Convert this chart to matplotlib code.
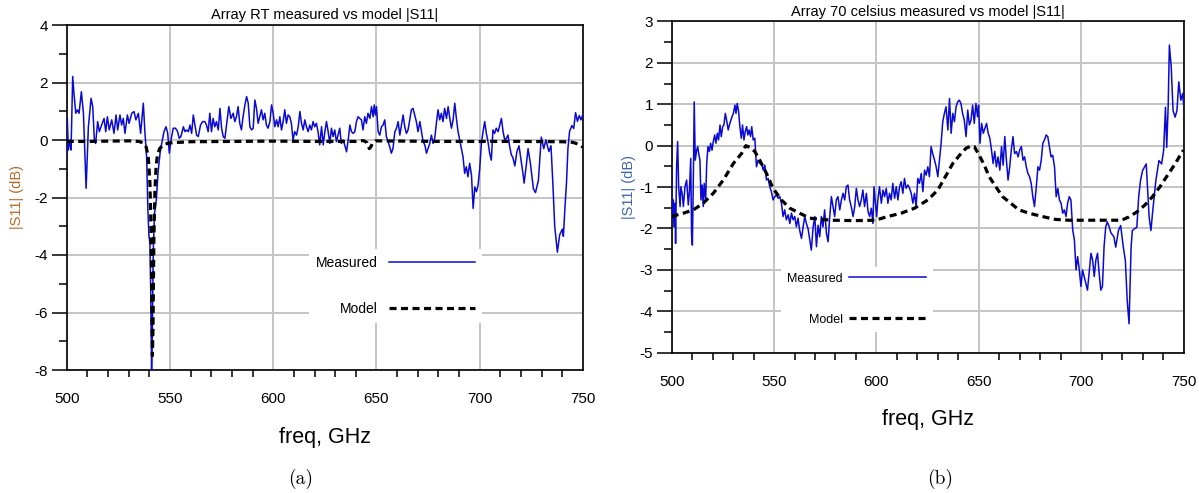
import matplotlib
matplotlib.use("Agg")
import matplotlib.pyplot as plt
from matplotlib.ticker import MultipleLocator

# |S11| (dB) vs freq (GHz)
rt_measured = [
    (500.0, -0.58), (500.3, 0.75), (500.8, -0.35), (501.6, 0.0), (502.1, -0.35), (502.9, 2.21),
    (503.5, 1.63), (504.4, 0.93), (505.2, 1.05), (506.0, 0.93), (507.1, 1.68), (508.1, 0.93),
    (509.4, -1.68), (510.5, 0.46), (511.8, 1.45), (512.6, 1.16), (513.4, 0.0), (514.0, -0.12),
    (515.0, 0.64), (515.8, 0.29), (516.9, 0.52), (518.1, 0.75), (518.9, 0.29), (519.7, 0.81),
    (520.6, 0.35), (521.8, 0.70), (522.9, 0.23), (523.9, 0.87), (524.7, 0.35), (525.8, 0.87),
    (526.6, 0.52), (527.4, 0.75), (528.2, 0.23), (529.4, 0.87), (530.2, 0.58), (531.5, 0.93),
    (532.6, 0.99), (533.5, 0.70), (534.7, 0.93), (535.8, 0.23), (537.1, 1.28), (537.9, 0.23),
    (538.7, -0.58), (539.3, -2.4), (539.8, -3.3), (540.3, -3.6), (540.7, -5.3), (541.1, -8.0),
    (541.5, -6.5), (541.9, -3.9), (542.5, -2.56), (543.4, -2.09), (544.2, -1.16), (545.2, -0.46),
    (546.0, -0.12), (547.1, 0.29), (548.1, 0.46), (548.9, 0.23), (549.7, -0.46), (550.5, 0.0),
    (551.6, 0.41), (552.7, 0.41), (553.7, 0.29), (554.5, 0.06), (555.3, 0.12), (556.5, 0.46),
    (557.3, 0.29), (558.1, 0.35), (558.9, 0.29), (559.7, 0.52), (560.5, 0.23), (561.3, 0.87),
    (562.1, 0.52), (562.9, 0.17), (563.7, 0.12), (564.8, 0.52), (565.8, 0.64), (566.9, 0.64),
    (567.7, 0.52), (568.5, 0.29), (569.3, 0.93), (570.1, 0.29), (570.9, 0.75), (571.7, 0.46),
    (572.5, 0.64), (573.4, 0.35), (574.2, 1.10), (575.0, 0.41), (575.8, 0.12), (576.6, 0.06),
    (577.4, 0.52), (578.5, 1.16), (579.5, 0.75), (580.6, 0.93), (581.4, 0.64), (582.2, 0.81),
    (583.0, 1.16), (583.8, 0.58), (584.6, 0.35), (585.4, 0.81), (586.3, 1.22), (587.1, 1.51),
    (587.9, 1.28), (588.7, 0.46), (589.5, 0.35), (590.3, 0.41), (591.1, 1.39), (591.9, 1.10),
    (592.7, 0.58), (593.5, 0.81), (594.3, 1.05), (595.1, 0.70), (595.9, 0.93), (596.7, 0.52),
    (597.5, 0.41), (598.4, 0.64), (599.2, 1.22), (600.0, 0.93), (600.8, 0.46), (601.6, 0.70),
    (602.4, 0.46), (603.2, 0.81), (604.0, 0.35), (604.8, 0.64), (605.6, 1.05), (606.4, 0.58),
    (607.2, 0.87), (608.0, 0.81), (608.8, 0.58), (609.6, 0.0), (610.4, 0.29), (611.3, 0.17),
    (612.1, 0.46), (612.9, 0.99), (613.7, 0.58), (614.5, 0.35), (615.3, 0.70), (616.1, 0.46),
    (616.9, 0.29), (617.7, 0.52), (618.5, 0.35), (619.3, 0.64), (620.1, 0.46), (620.9, 0.58),
    (621.7, 0.29), (622.5, -0.17), (623.4, 0.46), (624.2, -0.17), (625.0, 0.29), (625.8, 0.64),
    (626.6, 0.29), (627.4, -0.12), (628.2, 0.41), (629.0, 0.12), (629.8, 0.35), (630.6, -0.06),
    (631.4, 0.17), (632.2, 0.41), (633.0, -0.12), (633.8, 0.0), (634.6, -0.17), (635.5, -0.41),
    (636.3, 0.0), (637.1, 0.52), (637.9, 0.29), (638.7, 0.23), (639.5, 0.29), (640.3, 0.64),
    (641.1, 0.81), (641.9, 0.75), (642.7, 0.70), (643.5, 0.35), (644.3, 0.81), (645.1, 0.58),
    (645.9, 0.93), (646.8, 0.75), (647.6, 1.16), (648.4, 0.81), (648.9, 1.22), (649.5, 0.87),
    (650.0, 1.16), (650.8, 0.29), (651.6, 0.17), (652.4, 0.46), (653.2, 0.52), (654.0, 0.70),
    (654.8, 0.12), (655.6, -0.06), (656.4, -0.23), (657.2, -0.46), (658.0, -0.29), (658.9, 0.29),
    (659.7, 0.41), (660.5, 0.64), (661.3, 0.17), (662.1, 0.52), (662.9, 0.87), (663.7, 0.46),
    (664.5, 0.23), (665.3, 0.35), (666.1, 0.70), (666.9, 1.05), (667.7, 1.10), (668.5, 0.87),
    (669.3, 0.64), (670.1, 0.29), (671.0, 0.64), (671.8, 0.29), (672.6, -0.06), (673.4, -0.17),
    (674.2, -0.46), (675.0, -0.29), (675.8, -0.12), (676.6, 0.17), (677.4, -0.12), (678.2, 0.06),
    (679.0, 0.58), (679.8, 1.05), (680.6, 0.70), (681.4, 0.93), (682.2, 0.64), (683.0, 1.10),
    (683.9, 0.75), (684.7, 1.16), (685.5, 0.75), (686.3, 0.41), (687.1, 0.70), (687.9, 1.28),
    (688.7, 0.75), (689.5, 0.29), (690.3, 0.0), (691.1, -0.29), (691.9, -0.58), (692.7, -1.16),
    (693.5, -0.93), (694.3, -1.28), (695.1, -0.81), (696.0, -1.22), (696.8, -2.38), (697.6, -1.63),
    (698.4, -1.80), (699.2, -1.57), (700.0, -0.99), (700.8, -0.12), (701.6, 0.29), (702.4, 0.64),
    (703.2, 0.23), (704.0, -0.06), (704.8, -0.46), (705.6, -0.70), (706.4, 0.35), (707.2, 0.23),
    (708.0, 0.41), (708.9, 0.29), (709.7, 0.52), (710.5, 0.75), (711.3, 0.29), (712.1, 0.0),
    (712.9, 0.06), (713.7, 0.17), (714.5, -0.23), (715.3, -0.52), (716.0, -0.6), (717.0, -0.9),
    (718.0, -0.4), (719.0, -0.2), (720.0, -0.7), (721.0, -1.2), (721.5, -1.5), (722.5, -0.9),
    (723.4, -0.3), (724.5, -0.8), (726.0, -1.7), (727.0, -1.83), (728.4, -1.4), (729.8, 0.1),
    (731.0, -0.3), (732.0, 0.0), (733.5, -0.4), (734.5, -0.2), (735.4, -1.5), (736.3, -3.0),
    (737.6, -3.9), (738.7, -3.3), (740.0, -3.1), (740.5, -3.35), (741.3, -2.3), (742.0, -1.5),
    (742.7, -0.3), (743.5, 0.3), (744.6, 0.5), (745.5, 0.4), (746.4, 0.95), (747.3, 0.65),
    (748.2, 0.85), (749.0, 0.7), (750.0, 0.9),
]

rt_model = [
    (500, -0.05), (510, -0.05), (520, -0.04), (530, -0.03), (535, -0.05), (537, -0.1),
    (538.5, -0.25), (539.5, -0.6), (540.3, -1.5), (540.8, -3.0), (541.2, -5.5), (541.5, -7.5),
    (541.8, -6.5), (542.2, -3.5), (542.7, -1.8), (543.3, -0.9), (544, -0.5), (545, -0.3),
    (547, -0.15), (550, -0.1), (560, -0.06), (580, -0.05), (600, -0.04), (620, -0.05),
    (640, -0.05), (643.5, -0.02), (644.5, -0.05), (645.5, -0.1), (646.5, -0.3), (647.2, -0.25),
    (648.0, -0.12), (649.5, -0.03), (680, -0.05), (700, -0.05), (720, -0.05), (740, -0.06),
    (745, -0.08), (748, -0.15), (750, -0.25),
]

hot_measured = [
    (500.0, -0.67), (500.3, -1.79), (500.8, -1.31), (501.1, -1.96), (501.6, -1.39), (501.9, -2.36),
    (502.4, -0.51), (502.9, 0.10), (503.4, -0.99), (504.1, -1.47), (504.5, -0.99), (505.2, -1.19),
    (505.7, -1.47), (506.5, -0.99), (507.3, -0.83), (508.1, -1.43), (508.6, -1.15), (509.3, -0.31),
    (509.7, -2.12), (510.1, -2.40), (510.6, -0.67), (511.0, 1.06), (511.5, -0.35), (512.2, -0.11),
    (512.7, -0.02), (513.3, -0.22), (513.8, -0.35), (514.3, -1.31), (514.9, -0.95), (515.4, -1.47),
    (515.9, -0.91), (516.6, -1.31), (517.1, -0.43), (517.7, -0.02), (518.4, -0.14), (519.0, 0.06),
    (519.7, -0.11), (520.3, 0.10), (521.0, 0.26), (521.6, 0.06), (522.3, 0.30), (522.9, 0.14),
    (523.6, 0.50), (524.2, 0.22), (524.9, 0.46), (525.5, 0.50), (526.2, 0.78), (526.8, 0.62),
    (527.6, 0.38), (528.4, 0.54), (529.2, 0.66), (530.1, 0.78), (530.9, 0.98), (531.4, 0.78),
    (532.0, 1.02), (532.7, 0.82), (533.3, 0.46), (534.0, 0.18), (534.6, 0.50), (535.3, 0.14),
    (535.9, 0.34), (536.6, 0.46), (537.2, 0.26), (537.8, 0.38), (538.5, 0.22), (539.1, 0.46),
    (539.8, 0.14), (540.6, 0.18), (541.4, -0.51), (542.2, -0.35), (543.0, -0.43), (543.9, -0.43),
    (544.7, -0.59), (545.5, -0.47), (546.3, -0.83), (547.1, -0.79), (547.9, -0.99), (548.7, -1.11),
    (549.5, -1.31), (550.4, -1.23), (551.2, -1.19), (552.0, -1.27), (552.8, -1.23), (553.6, -1.39),
    (554.4, -1.71), (555.2, -1.55), (556.0, -1.79), (556.9, -1.67), (557.7, -1.88), (558.5, -1.63),
    (559.3, -1.79), (560.1, -1.71), (560.9, -1.96), (561.7, -1.75), (562.5, -2.04), (563.4, -2.24),
    (564.2, -1.96), (565.0, -1.71), (565.8, -1.88), (566.6, -2.0), (568.2, -2.52), (569.1, -1.96),
    (569.9, -1.71), (570.7, -2.44), (571.5, -1.92), (572.3, -2.20), (573.1, -1.71), (573.9, -1.96),
    (574.7, -1.55), (575.6, -2.12), (576.4, -2.32), (577.2, -1.71), (578.0, -1.23), (578.8, -1.47),
    (579.6, -1.71), (580.4, -1.31), (581.2, -1.23), (582.1, -1.55), (582.9, -1.31), (583.7, -1.15),
    (584.5, -1.31), (585.3, -0.99), (586.1, -0.95), (586.9, -1.31), (587.7, -1.47), (588.6, -1.71),
    (589.4, -1.47), (590.2, -1.03), (591.0, -1.31), (591.8, -1.47), (592.6, -1.31), (593.4, -1.07),
    (594.2, -1.47), (595.1, -1.15), (595.9, -1.59), (596.7, -1.71), (597.5, -1.51), (598.3, -1.88),
    (598.8, -0.99), (599.4, -1.31), (600.1, -1.71), (600.7, -1.31), (601.5, -0.99), (602.4, -1.39),
    (603.2, -1.07), (604.0, -1.23), (604.8, -1.03), (605.6, -1.39), (606.4, -1.15), (607.2, -1.31),
    (608.0, -0.91), (608.9, -1.27), (609.7, -0.99), (610.5, -1.31), (611.3, -0.99), (612.1, -0.87),
    (612.9, -1.15), (613.7, -0.79), (614.5, -1.03), (615.4, -0.95), (616.2, -1.03), (617.0, -1.15),
    (617.8, -1.39), (618.6, -1.15), (619.4, -1.47), (620.2, -0.79), (621.0, -0.91), (621.9, -0.67),
    (622.7, -1.11), (623.5, -0.59), (624.3, -0.71), (625.1, -0.51), (625.9, -0.75), (626.7, -0.02),
    (627.5, -0.19), (628.4, -0.35), (629.2, -0.51), (630.0, -0.75), (630.8, -0.35), (631.6, 0.06),
    (632.4, 0.58), (633.2, 0.78), (634.0, 0.94), (634.9, 0.38), (635.7, 1.14), (636.5, 0.30),
    (637.3, 0.78), (638.1, 0.58), (638.9, 0.94), (639.7, 1.06), (640.5, 1.10), (641.3, 1.02),
    (642.1, 0.78), (642.9, 0.62), (643.8, 0.22), (644.6, 0.86), (645.4, 0.50), (646.2, 0.62),
    (647.0, 0.98), (647.8, 0.54), (648.6, 1.02), (649.4, 0.70), (649.9, 0.98), (650.6, 0.06),
    (651.4, 0.54), (652.2, 0.30), (653.0, 0.42), (653.8, 0.54), (654.6, 0.30), (655.4, 0.18),
    (656.2, -0.10), (657.0, -0.43), (657.8, -0.14), (658.6, -0.51), (659.4, -0.27), (660.3, -0.59),
    (661.1, -0.02), (661.9, -0.47), (662.7, 0.22), (663.5, -0.35), (664.3, -0.83), (665.1, -0.51),
    (665.9, -0.10), (666.7, 0.22), (667.5, -0.19), (668.4, -0.14), (669.2, -0.27), (670.0, -0.10),
    (670.8, -0.02), (671.6, -0.35), (672.4, -0.27), (673.2, -0.51), (674.0, -0.67), (674.8, -0.75),
    (675.6, -0.91), (676.4, -1.23), (677.2, -1.47), (678.1, -0.99), (678.9, -0.51), (679.7, -0.59),
    (680.5, -0.35), (681.3, 0.06), (682.1, 0.14), (682.9, 0.26), (683.7, 0.22), (684.5, -0.02),
    (685.3, -0.27), (686.1, -0.23), (687.0, -0.51), (687.8, -1.23), (688.6, -1.03), (689.4, -1.31),
    (690.2, -1.39), (691.0, -1.63), (691.8, -1.55), (692.6, -1.71), (693.4, -1.39), (694.2, -1.23),
    (695.0, -1.31), (695.9, -2.04), (696.7, -2.28), (697.5, -3.0), (698.3, -2.68), (699.1, -3.0),
    (699.9, -3.40), (700.7, -3.0), (701.5, -3.16), (702.3, -3.33), (703.1, -3.49), (703.9, -3.08),
    (704.8, -2.60), (705.6, -2.76), (706.4, -3.16), (707.2, -2.76), (708.0, -2.60), (708.8, -3.08),
    (709.6, -3.49), (710.4, -3.40), (711.2, -2.44), (712.0, -1.96), (712.8, -1.84), (713.7, -1.96),
    (714.5, -2.1), (716.0, -2.2), (716.9, -2.45), (718.2, -2.05), (719.3, -1.93), (720.6, -2.45),
    (721.6, -2.77), (722.5, -3.74), (723.4, -4.3), (724.4, -2.45), (725.0, -2.05), (726.2, -2.0),
    (727.2, -1.97), (728.1, -1.24), (729.0, -0.84), (730.0, -0.6), (730.9, -0.52), (731.8, -0.44),
    (733.2, -1.72), (734.1, -2.05), (735.0, -1.56), (736.5, -0.84), (738.0, -0.36), (739.3, -0.44),
    (740.3, -0.11), (741.2, 0.93), (741.8, -0.04), (742.5, 0.93), (743.1, 2.43), (744.0, 1.9),
    (744.9, 0.85), (745.9, 0.69), (746.8, 0.85), (747.7, 1.54), (748.7, 1.1), (749.6, 1.26),
    (750.0, 1.0),
]

hot_model = [
    (500, -1.71), (505.7, -1.63), (510.6, -1.55), (515.4, -1.39), (520.3, -1.15), (525.2, -0.83),
    (530.1, -0.43), (534.1, -0.19), (536.2, 0.0), (538.2, -0.04), (540.6, -0.14), (543.0, -0.35),
    (546.3, -0.67), (549.5, -1.03), (553.6, -1.31), (557.7, -1.51), (562.5, -1.63), (567.4, -1.75),
    (578, -1.80), (589.4, -1.81), (599.4, -1.80), (605.6, -1.71), (612.1, -1.63), (618.6, -1.51),
    (625.1, -1.31), (630, -1.07), (633.2, -0.79), (637.3, -0.43), (641.3, -0.19), (643.8, -0.06),
    (646.2, -0.01), (647.8, -0.02), (650.2, -0.23), (652.7, -0.47), (655.1, -0.75), (658.3, -0.99),
    (661.6, -1.23), (665.6, -1.39), (669.6, -1.55), (674.5, -1.63), (681, -1.71), (687.4, -1.78),
    (693.9, -1.80), (700.4, -1.80), (710.1, -1.80), (719.7, -1.80), (723.4, -1.72), (727.2, -1.6),
    (731, -1.44), (734.7, -1.24), (738.4, -1.0), (742.1, -0.72), (745.9, -0.44), (747.8, -0.28),
    (750, -0.11),
]

plt.rcParams["font.family"] = ["Liberation Sans", "DejaVu Sans"]
plt.rcParams["axes.unicode_minus"] = False

BLUE = "#0a0ad2"
GRID = "#c4c4c4"


def draw_panel(ax, measured, model, title, ylim, ymajor, yminor, legend_anchor, legend_size, label_gap):
    f_m, db_m = zip(*measured)
    f_s, db_s = zip(*model)
    ax.plot(f_m, db_m, color=BLUE, lw=1.1, label="Measured", zorder=3)
    ax.plot(f_s, db_s, color="black", lw=2.3, dashes=(2.2, 1.4), label="Model", zorder=3)

    ax.set_xlim(500, 750)
    ax.set_ylim(*ylim)
    ax.xaxis.set_major_locator(MultipleLocator(50))
    ax.xaxis.set_minor_locator(MultipleLocator(10))
    ax.yaxis.set_major_locator(MultipleLocator(ymajor))
    ax.yaxis.set_minor_locator(MultipleLocator(yminor))
    ax.grid(True, which="major", color=GRID, lw=1.4)
    ax.set_axisbelow(True)
    for sp in ax.spines.values():
        sp.set_linewidth(1.2)

    ax.tick_params(axis="y", which="major", length=10.5, width=1.1, pad=3, labelsize=11)
    ax.tick_params(axis="y", which="minor", length=5.8, width=1.1)
    ax.tick_params(axis="x", which="major", length=11, width=1.1, pad=5, labelsize=11)
    ax.tick_params(axis="x", which="minor", length=5, width=1.1)
    # only the corner tick at 500 is drawn, the others sit on grid lines
    for t in ax.xaxis.get_major_ticks()[1:]:
        t.tick1line.set_visible(False)

    ax.set_title(title, fontsize=10.5, pad=4)

    leg = ax.legend(loc="upper right", bbox_to_anchor=legend_anchor, markerfirst=False,
                    frameon=True, fancybox=False, facecolor="white", edgecolor="none",
                    framealpha=1, fontsize=legend_size, handlelength=6.2,
                    handletextpad=label_gap, labelspacing=2.3, borderpad=0.5,
                    borderaxespad=0)
    leg.set_zorder(2)


fig = plt.figure(figsize=(11.99, 4.93), dpi=100)
W, H = 1199, 493
ax1 = fig.add_axes([66.7 / W, (H - 370) / H, 516.3 / W, 345 / H])
ax2 = fig.add_axes([671.7 / W, (H - 352.7) / H, 511.8 / W, 331.2 / H])

draw_panel(ax1, rt_measured, rt_model, "Array RT measured vs model |S11|",
           (-8, 4), 2, 1, (0.805, 0.35), 10, 0.8)
draw_panel(ax2, hot_measured, hot_model, "Array 70 celsius measured vs model |S11|",
           (-5, 3), 1, 0.5, (0.51, 0.26), 9, 0.5)

fig.text(17 / W, 1 - 197 / H, "|S11| (dB)", rotation=90, ha="center", va="center",
         fontsize=10.5, color="#b86b2a")
fig.text(629 / W, 1 - 187 / H, "|S11| (dB)", rotation=90, ha="center", va="center",
         fontsize=10.5, color="#4266a8")

fig.text(325 / W, 1 - 437 / H, "freq, GHz", ha="center", va="center", fontsize=15.5)
fig.text(928 / W, 1 - 420 / H, "freq, GHz", ha="center", va="center", fontsize=15.5)
fig.text(301 / W, 1 - 479 / H, "(a)", ha="center", va="center", fontsize=14, family="cmr10")
fig.text(940 / W, 1 - 479 / H, "(b)", ha="center", va="center", fontsize=14, family="cmr10")

fig.savefig("out.png", dpi=100)
plt.close(fig)
